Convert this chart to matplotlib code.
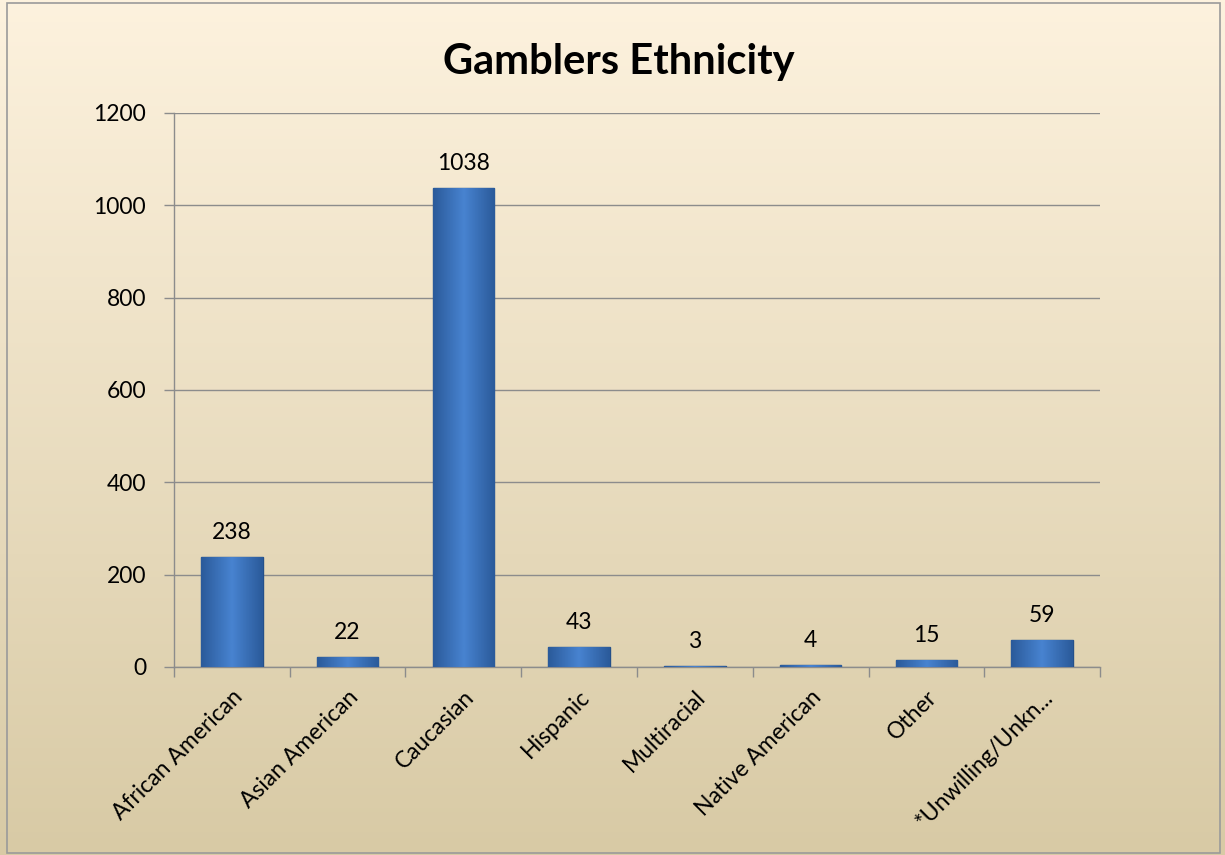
import numpy as np
import matplotlib.pyplot as plt
from matplotlib.patches import Rectangle
from matplotlib.colors import LinearSegmentedColormap

categories = ["African American", "Asian American", "Caucasian", "Hispanic",
              "Multiracial", "Native American", "Other", "*Unwilling/Unkn..."]
counts = [238, 22, 1038, 43, 3, 4, 15, 59]
yticks = [0, 200, 400, 600, 800, 1000, 1200]

plt.rcParams['font.family'] = ['Lato', 'DejaVu Sans']

fig = plt.figure(figsize=(12.25, 8.55), dpi=100)

# background gradient
bg = fig.add_axes([0, 0, 1, 1], zorder=0)
grad = np.linspace(0, 1, 256).reshape(-1, 1)
top = np.array([253, 242, 222]) / 255
bot = np.array([216, 202, 165]) / 255
img = top[None, None, :] * (1 - grad[:, :, None]) + bot[None, None, :] * grad[:, :, None]
bg.imshow(img, aspect='auto', extent=[0, 1, 0, 1])
bg.add_patch(Rectangle((0.006, 0.002), 0.99, 0.995, fill=False,
                       edgecolor='#9a9a9a', linewidth=1.2))
bg.set_xlim(0, 1)
bg.set_ylim(0, 1)
bg.axis('off')

ax = fig.add_axes([0.142, 0.220, 0.756, 0.648], zorder=1)
ax.patch.set_alpha(0)

x = np.arange(len(categories))
bars = ax.bar(x, counts, width=0.53, color='#3d74bf', edgecolor='#24508a',
              linewidth=1.0, zorder=3)

# horizontal shading on bars
shade = np.concatenate([np.linspace(0.0, 1.0, 20), np.linspace(1.0, 0.0, 20)])
shade = shade.reshape(1, -1)
cmap = LinearSegmentedColormap.from_list('bar', ['#2b5b9b', '#4782cf'])
for b in bars:
    bx, by = b.get_x(), b.get_y()
    bw, bh = b.get_width(), b.get_height()
    im = ax.imshow(shade, cmap=cmap, aspect='auto',
                   extent=[bx, bx + bw, by, by + bh], zorder=3.5)
    im.set_clip_path(b)

for xi, v in zip(x, counts):
    ax.annotate(str(v), (xi, v), xytext=(0, 10), textcoords='offset points',
                ha='center', va='bottom', fontsize=16.5, zorder=5)

ax.set_xlim(-0.5, len(categories) - 0.5)
ax.set_ylim(0, 1200)
ax.set_yticks(yticks)
ax.set_yticklabels([str(t) for t in yticks], fontsize=16.5)
ax.yaxis.grid(True, color='#8c8c8c', linewidth=1.0, zorder=0)
ax.set_axisbelow(True)

ax.set_xticks(x)
ax.set_xticklabels(categories, rotation=45, ha='right', rotation_mode='anchor',
                   fontsize=16.5)
ax.tick_params(axis='x', length=0, pad=14)
ax.set_xticks(np.arange(-0.5, len(categories), 1), minor=True)
ax.tick_params(axis='x', which='minor', length=7, color='#8c8c8c', width=1)
ax.tick_params(axis='y', length=7, color='#8c8c8c', width=1, pad=13)

for s in ['top', 'right']:
    ax.spines[s].set_visible(False)
for s in ['left', 'bottom']:
    ax.spines[s].set_color('#8c8c8c')
    ax.spines[s].set_linewidth(1.0)

fig.text(0.505, 0.927, "Gamblers Ethnicity", ha='center', va='center',
         fontsize=30, fontweight='bold')

fig.savefig('out.png', dpi=100)
